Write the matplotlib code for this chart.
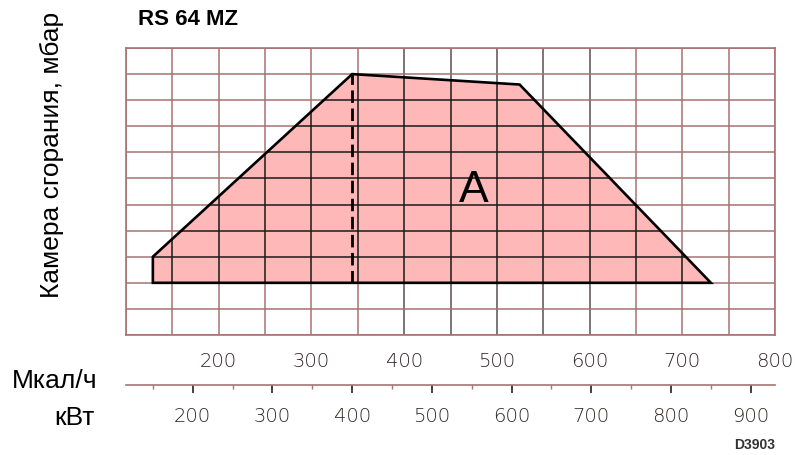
import matplotlib.pyplot as plt
import numpy as np
from matplotlib.patches import Polygon

# Datos
kw_por_mcal = 1.163
potencia_kw = [150, 150, 400, 610, 850]
presion_mbar = [0, 1, 8, 7.6, 0]
linea_kw = 400
linea_mbar = [0, 8]
ticks_kw = [200, 300, 400, 500, 600, 700, 800, 900]
ticks_mcal = [200, 300, 400, 500, 600, 700, 800]
grid_mcal = np.arange(100, 801, 50)
grid_mbar = np.arange(-2, 10, 1)

plt.rcParams['font.family'] = ['Liberation Sans', 'DejaVu Sans']

fig = plt.figure(figsize=(7.95, 4.55), dpi=100)
ax = fig.add_axes([126/795, 1-335/455, 649/795, 287/455])

xmin, xmax = 100*kw_por_mcal, 800*kw_por_mcal
ax.set_xlim(xmin, xmax)
ax.set_ylim(-2, 9)
ax.set_xticks([])
ax.set_yticks([])
for s in ax.spines.values():
    s.set_color('#a57373')
    s.set_linewidth(1.2)

# rejilla de fondo
oscuras = [400, 450, 500, 550, 600]
for m in grid_mcal:
    c = '#5a5050' if m in oscuras else '#a57373'
    ax.axvline(m*kw_por_mcal, color=c, lw=1.1, zorder=1)
for y in grid_mbar:
    ax.axhline(y, color='#a57373', lw=1.1, zorder=1)

# zona de trabajo
pts = np.column_stack([potencia_kw, presion_mbar])
zona = Polygon(pts, closed=True, facecolor='#ffb8b8', edgecolor='none', zorder=2)
ax.add_patch(zona)

# rejilla dentro de la zona, en negro
for m in grid_mcal:
    l = ax.axvline(m*kw_por_mcal, color='#1a1a1a', lw=1.1, zorder=3)
    l.set_clip_path(zona)
for y in grid_mbar:
    l = ax.axhline(y, color='#1a1a1a', lw=1.1, zorder=3)
    l.set_clip_path(zona)

ax.add_patch(Polygon(pts, closed=True, facecolor='none', edgecolor='black',
                     lw=1.9, joinstyle='miter', zorder=4))
ax.plot([linea_kw, linea_kw], linea_mbar, color='black', lw=2,
        dashes=(4.5, 2), zorder=4)

ax.text(552, 3.55, 'A', fontsize=32, ha='center', va='center', zorder=5)

# eje de potencia
axk = fig.add_axes([126/795, 1-385/455, 649/795, 0.001])
axk.set_xlim(xmin, xmax)
axk.set_yticks([])
axk.patch.set_visible(False)
for k in ['top', 'left', 'right']:
    axk.spines[k].set_visible(False)
axk.spines['bottom'].set_color('#a57373')
axk.spines['bottom'].set_linewidth(1.2)
axk.set_xticks(ticks_kw)
axk.set_xticks([t + 50 for t in [100] + ticks_kw[:-1]], minor=True)
axk.tick_params(axis='x', which='major', length=6, width=1.3, color='#333333',
                pad=10, labelsize=14, labelcolor='#2e2424')
axk.tick_params(axis='x', which='minor', length=3, width=1, color='#a57373')
for t in axk.get_xticklabels():
    t.set_family('DejaVu Sans')
    t.set_fontweight('light')

sec = axk.secondary_xaxis('top', functions=(lambda x: x/kw_por_mcal,
                                            lambda x: x*kw_por_mcal))
sec.set_xticks(ticks_mcal)
sec.tick_params(length=0, pad=9.5, labelsize=14, labelcolor='#2e2424')
sec.spines['top'].set_visible(False)
for t in sec.get_xticklabels():
    t.set_family('DejaVu Sans')
    t.set_fontweight('light')

# textos
fig.text(138/795, 1-19.5/455, 'RS 64 MZ', fontsize=16, fontweight='bold',
         ha='left', va='center')
fig.text(52/795, 1-155/455, 'Камера сгорания, мбар', fontsize=19,
         rotation=90, ha='center', va='center')
fig.text(97/795, 1-381/455, 'Мкал/ч', fontsize=19, ha='right', va='center')
fig.text(95/795, 1-418/455, 'кВт', fontsize=19, ha='right', va='center')
fig.text(775/795, 1-445/455, 'D3903', fontsize=10, fontweight='bold',
         color='#333333', ha='right', va='center')

fig.savefig('out.png', dpi=100)
